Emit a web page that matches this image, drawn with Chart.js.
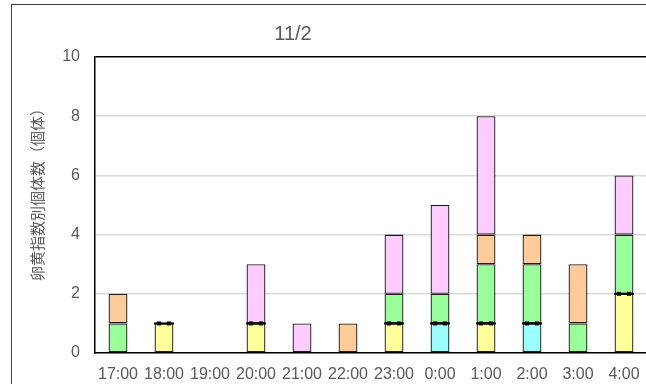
<!DOCTYPE html>
<html>
<head>
<meta charset="utf-8">
<script src="https://cdn.jsdelivr.net/npm/chart.js@4/dist/chart.umd.min.js"></script>
<style>
  html, body { margin: 0; padding: 0; width: 646px; height: 384px; overflow: hidden; background: #fff; }
  #frame { position: absolute; left: 11px; top: 4px; width: 700px; height: 420px; border: 1px solid #404040; }
  #c { position: absolute; left: 0; top: 0; }
  #title { position: absolute; left: 181px; top: 16px; width: 200px; text-align: center;
           font: 20px "Liberation Sans", Arial, sans-serif; line-height: 24px; color: #595959; }
  #ytitle { position: absolute; left: -127px; top: 177px; width: 300px; height: 18px; line-height: 18px;
            text-align: center; transform: rotate(-90deg); white-space: nowrap;
            font: 15px "Noto Sans CJK JP", sans-serif; color: #595959; }
</style>
</head>
<body>
<div id="frame">
  <canvas id="c" width="690" height="410" style="width:690px;height:410px"></canvas>
  <div id="title">11/2</div>
  <div id="ytitle">卵黄指数別個体数（個体）</div>
</div>
<script>
// Hourly observation slots
const categories = ['17:00','18:00','19:00','20:00','21:00','22:00','23:00','0:00','1:00','2:00','3:00','4:00'];

// Individuals per yolk-index class (stacked bottom to top)
const cyanCounts   = [null, null, null, null, null, null, null, 1,    null, 1,    null, null];
const yellowCounts = [null, 1,    null, 1,    null, null, 1,    null, 1,    null, null, 2];
const greenCounts  = [1,    null, null, null, null, null, 1,    1,    2,    2,    1,    2];
const orangeCounts = [1,    null, null, null, null, 1,    null, null, 1,    1,    2,    null];
const pinkCounts   = [null, null, null, 2,    1,    null, 2,    3,    4,    null, null, 2];

// Level of the marked boundary in each bar
const markerLevels = [null, 1, null, 1, null, null, 1, 1, 1, 1, null, 2];

const yTicks = [0, 2, 4, 6, 8, 10];

// Marker glyph: short dark bar with two small squares
const markerGlyph = document.createElement('canvas');
markerGlyph.width = 20;
markerGlyph.height = 6;
(function () {
  const g = markerGlyph.getContext('2d');
  g.fillStyle = '#000';
  g.fillRect(0, 2, 20, 2);
  g.fillRect(3, 1, 4, 4);
  g.fillRect(13, 1, 4, 4);
})();

const BORDER = '#1a1a1a';
function barSet(label, data, color) {
  return {
    type: 'bar', label, data,
    backgroundColor: color,
    borderColor: BORDER,
    borderWidth: 1.3,
    borderSkipped: false,
    barPercentage: 0.41,
    categoryPercentage: 1.0,
    stack: 'counts'
  };
}

new Chart(document.getElementById('c'), {
  data: {
    labels: categories,
    datasets: [
      {
        type: 'line', label: 'marker', data: markerLevels,
        showLine: false, stack: 'markers', order: -1,
        pointStyle: markerGlyph, pointRadius: 6, pointHoverRadius: 6
      },
      barSet('c1', cyanCounts,   '#99FFFF'),
      barSet('c2', yellowCounts, '#FFFF99'),
      barSet('c3', greenCounts,  '#99FF99'),
      barSet('c4', orangeCounts, '#FFCC99'),
      barSet('c5', pinkCounts,   '#FFCCFF')
    ]
  },
  options: {
    responsive: false,
    animation: false,
    events: [],
    layout: { padding: { left: 11, top: 52, right: 55, bottom: 0 } },
    plugins: { legend: { display: false }, title: { display: false }, tooltip: { enabled: false } },
    scales: {
      x: {
        stacked: true,
        grid: { display: false, drawTicks: false },
        border: { color: '#000', width: 1.5 },
        ticks: { color: '#595959', padding: 12, maxRotation: 0, autoSkip: false,
                 font: { family: '"Liberation Sans", Arial, sans-serif', size: 16 } },
        afterFit: s => { s.height = 62; }
      },
      y: {
        stacked: true,
        min: 0, max: 10,
        afterBuildTicks: s => { s.ticks = yTicks.map(v => ({ value: v })); },
        grid: {
          drawTicks: false,
          color: c => (c.tick && c.tick.value === 10) ? '#000' : '#d9d9d9',
          lineWidth: 1.5
        },
        border: { color: '#000', width: 1.5 },
        ticks: { color: '#595959', padding: 15,
                 font: { family: '"Liberation Sans", Arial, sans-serif', size: 16 } },
        afterFit: s => { s.width = 72; }
      }
    }
  }
});
</script>
</body>
</html>
